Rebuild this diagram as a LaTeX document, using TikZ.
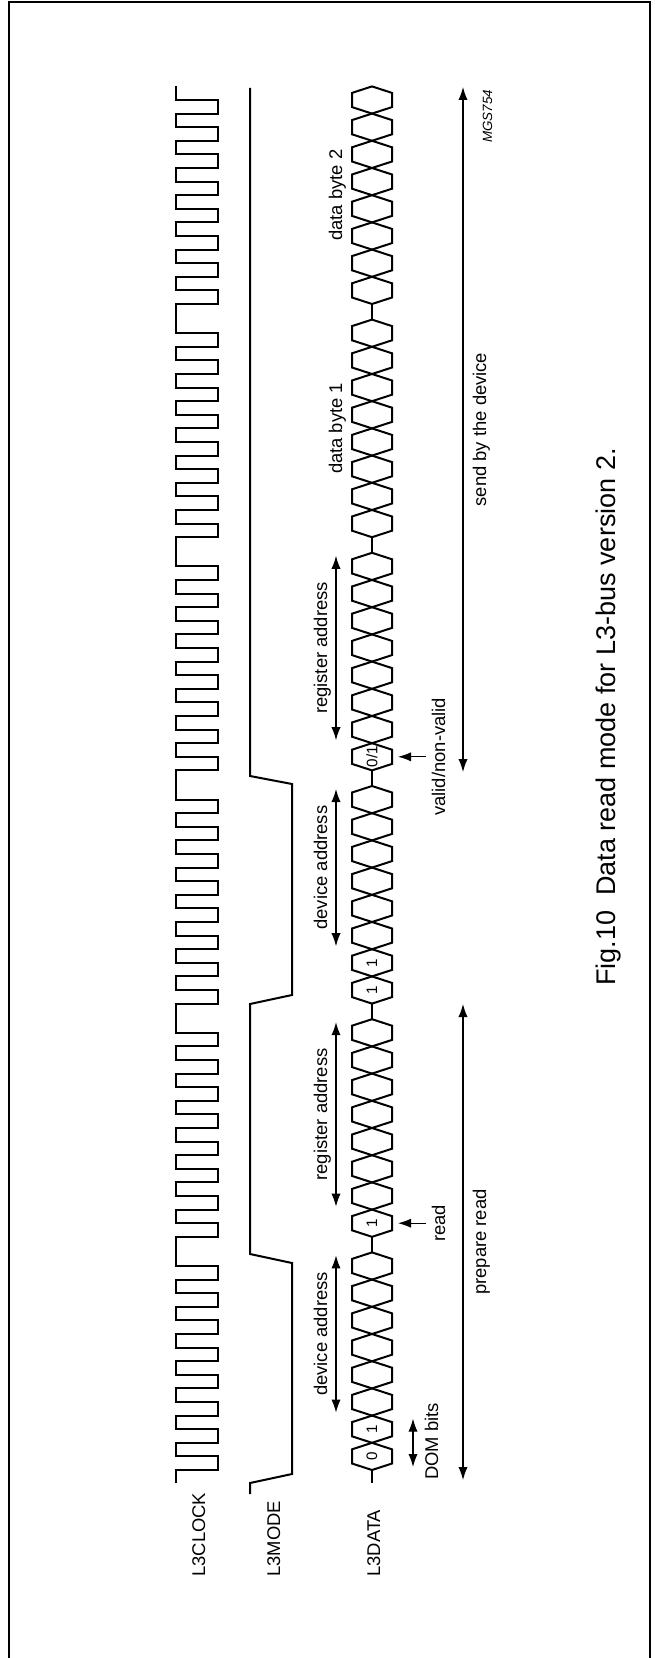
\documentclass[tikz,border=0pt]{standalone}
\usepackage{fontspec}
\setmainfont{Liberation Sans}
\usetikzlibrary{calc,positioning,arrows.meta}

\tikzstyle{wave} = [line width=1pt, line join=miter]
\tikzstyle{span} = [line width=0.6pt, {Latex[length=6.5pt,width=4.6pt]}-{Latex[length=6.5pt,width=4.6pt]}]
\tikzstyle{point} = [line width=0.6pt, -{Latex[length=6.5pt,width=4.6pt]}]
\tikzstyle{signame} = [rotate=90, inner sep=0pt, anchor=base west, font=\fontsize{9.2}{11}\selectfont]
\tikzstyle{note} = [rotate=90, inner sep=0pt, anchor=base, font=\fontsize{9.2}{11}\selectfont]
\tikzstyle{bitval} = [rotate=90, inner sep=0pt, font=\fontsize{7.6}{9}\selectfont]

\newcommand{\bitw}{27.2}
\newcommand{\grp}{233.2}

\begin{document}
\begin{tikzpicture}[x=0.5pt, y=-0.5pt]
\useasboundingbox (0,0) rectangle (654,1658);
% frame
\draw[line width=0.8pt] (9,1658) -- (9,2) -- (650,2) -- (650,1658);

% signal names
\node[signame] (clk) at (205,1577) {L3CLOCK};
\node[signame] (mode) at (280,1577) {L3MODE};
\node[signame] (data) at (380,1577) {L3DATA};

% L3CLOCK: 6 bytes of 8 pulses
\draw[wave] (176,1483) foreach \g in {0,...,5} { foreach \b in {0,...,7} {
    -- (176,{1470-\g*\grp-\b*\bitw}) -- (218,{1470-\g*\grp-\b*\bitw})
    -- (218,{1470-\g*\grp-\b*\bitw-\bitw/2}) -- (176,{1470-\g*\grp-\b*\bitw-\bitw/2}) }}
  -- (176,86.4);

% L3MODE
\draw[wave] (250,1494) -- (250,1483) -- (292,1474) -- (292,1263) -- (250,1254)
  -- (250,1004) -- (292,995) -- (292,784) -- (250,776) -- (250,88);

% L3DATA
\draw[wave] (372,1483) -- (372,1470);
\foreach \g in {0,...,5} {
  \foreach \b in {0,...,7} {
    \pgfmathsetmacro\ya{1470-\g*\grp-\b*\bitw}
    \pgfmathsetmacro\yb{\ya-\bitw}
    \draw[wave] (372,\ya) -- (352,{\ya-6.5}) -- (352,{\yb+6.5}) -- (372,\yb)
      -- (392,{\yb+6.5}) -- (392,{\ya-6.5}) -- cycle;
  }
}
\foreach \g in {0,...,4}
  \draw[wave] (372,{1470-\g*\grp-8*\bitw}) -- (372,{1470-(\g+1)*\grp});

% bit values
\node[bitval] (b0) at (372,1456.4) {0};
\node[bitval] (b1) at (372,1429.2) {1};
\node[bitval] (rbit) at (372,1223.2) {1};
\node[bitval] (b2) at (372,990) {1};
\node[bitval] (b3) at (372,962.8) {1};
\node[bitval] (vbit) at (372,756.8) {0/1};

% field arrows
\coordinate (dev1a) at (336,1412.6); \coordinate (dev1b) at (336,1255.4);
\coordinate (reg1a) at (336,1206.6); \coordinate (reg1b) at (336,1022.2);
\coordinate (dev2a) at (336,946.2);  \coordinate (dev2b) at (336,789);
\coordinate (reg2a) at (336,740.2);  \coordinate (reg2b) at (336,555.8);
\draw[span] (dev1a) -- (dev1b);
\draw[span] (reg1a) -- (reg1b);
\draw[span] (dev2a) -- (dev2b);
\draw[span] (reg2a) -- (reg2b);
\node[note] (dev1) at (327,1334) {device address};
\node[note] (reg1) at (327,1114.4) {register address};
\node[note] (dev2) at (327,867.6) {device address};
\node[note] (reg2) at (327,648) {register address};
\node[note] (byte1) at (342,428.4) {data byte 1};
\node[note] (byte2) at (342,195.2) {data byte 2};

% DOM bits
\coordinate (doma) at (413,1467); \coordinate (domb) at (413,1418.6);
\draw[span] (doma) -- (domb);
\node[signame] (dom) at (438,1480) {DOM bits};

% read and valid pointers
\node[note, inner sep=2.6pt] (rd) at (445,1223.2) {read};
\coordinate (rdtip) at (398,1223.2);
\draw[point] (rd.north) -- (rdtip);
\node[note, inner sep=2.6pt] (vld) at (445,756.8) {valid/non-valid};
\coordinate (vldtip) at (398,756.8);
\draw[point] (vld.north) -- (vldtip);

% phases
\coordinate (prepa) at (463,1480); \coordinate (prepb) at (463,1004);
\coordinate (senda) at (463,772);  \coordinate (sendb) at (463,87);
\draw[span] (prepa) -- (prepb);
\draw[span] (senda) -- (sendb);
\node[note] (prep) at (486,1242) {prepare read};
\node[note] (send) at (486,429.5) {send by the device};

\node[rotate=90, inner sep=0pt, anchor=base west, font=\fontsize{6.7}{8}\itshape] (mgs) at (492,143) {MGS754};

% caption
\node[rotate=90, inner sep=0pt, anchor=base, font=\fontsize{13.5}{16}\selectfont] (cap) at (615,717) {Fig.10\ \ Data read mode for L3-bus version 2.};
\end{tikzpicture}
\end{document}
